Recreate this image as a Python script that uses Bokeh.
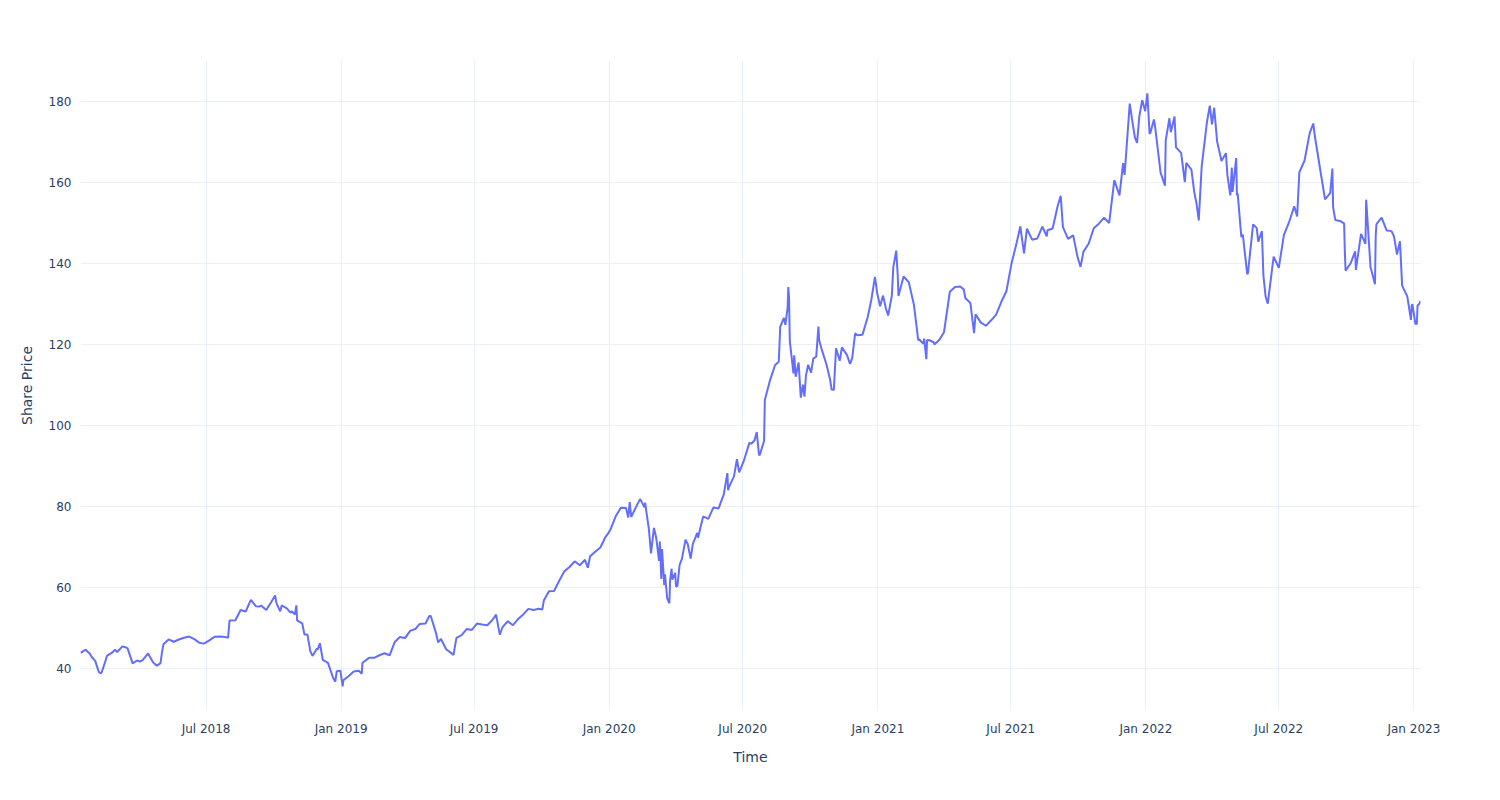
import pandas as pd
from bokeh.plotting import figure
from bokeh.models import ColumnDataSource, DatetimeTickFormatter, MonthsTicker, FixedTicker, Range1d
from bokeh.embed import file_html
from bokeh.resources import INLINE

dates = [
    "2018-01-11", "2018-01-18", "2018-01-24", "2018-01-26", "2018-01-31", "2018-02-05", "2018-02-08", "2018-02-09",
    "2018-02-14", "2018-02-16", "2018-02-23", "2018-02-27", "2018-03-02", "2018-03-09", "2018-03-13", "2018-03-16",
    "2018-03-23", "2018-03-29", "2018-04-02", "2018-04-06", "2018-04-13", "2018-04-20", "2018-04-25", "2018-04-30",
    "2018-05-02", "2018-05-04", "2018-05-11", "2018-05-18", "2018-05-25", "2018-06-01", "2018-06-08", "2018-06-15",
    "2018-06-22", "2018-06-28", "2018-07-06", "2018-07-13", "2018-07-20", "2018-07-27", "2018-07-31", "2018-08-02",
    "2018-08-10", "2018-08-17", "2018-08-24", "2018-08-31", "2018-09-07", "2018-09-12", "2018-09-14", "2018-09-21",
    "2018-09-28", "2018-10-03", "2018-10-05", "2018-10-10", "2018-10-12", "2018-10-19", "2018-10-24", "2018-10-26",
    "2018-10-30", "2018-11-01", "2018-11-02", "2018-11-09", "2018-11-12", "2018-11-16", "2018-11-20", "2018-11-23",
    "2018-11-29", "2018-11-30", "2018-12-03", "2018-12-07", "2018-12-14", "2018-12-21", "2018-12-24", "2018-12-26",
    "2018-12-31", "2019-01-03", "2019-01-04", "2019-01-11", "2019-01-18", "2019-01-25", "2019-01-29", "2019-01-30",
    "2019-02-01", "2019-02-08", "2019-02-15", "2019-02-22", "2019-03-01", "2019-03-08", "2019-03-15", "2019-03-22",
    "2019-03-29", "2019-04-05", "2019-04-12", "2019-04-18", "2019-04-26", "2019-05-01", "2019-05-03", "2019-05-10",
    "2019-05-13", "2019-05-17", "2019-05-24", "2019-05-31", "2019-06-03", "2019-06-07", "2019-06-14", "2019-06-21",
    "2019-06-28", "2019-07-05", "2019-07-12", "2019-07-19", "2019-07-26", "2019-07-31", "2019-08-05", "2019-08-09",
    "2019-08-16", "2019-08-23", "2019-08-30", "2019-09-06", "2019-09-13", "2019-09-20", "2019-09-27", "2019-10-02",
    "2019-10-04", "2019-10-11", "2019-10-18", "2019-10-25", "2019-11-01", "2019-11-08", "2019-11-15", "2019-11-22",
    "2019-11-29", "2019-12-03", "2019-12-06", "2019-12-13", "2019-12-20", "2019-12-27", "2019-12-31", "2020-01-03",
    "2020-01-10", "2020-01-17", "2020-01-24", "2020-01-27", "2020-01-29", "2020-01-31", "2020-02-07", "2020-02-12",
    "2020-02-14", "2020-02-18", "2020-02-19", "2020-02-21", "2020-02-24", "2020-02-27", "2020-03-02", "2020-03-05",
    "2020-03-09", "2020-03-10", "2020-03-12", "2020-03-13", "2020-03-16", "2020-03-17", "2020-03-20", "2020-03-23",
    "2020-03-24", "2020-03-26", "2020-03-27", "2020-03-31", "2020-04-01", "2020-04-03", "2020-04-06", "2020-04-09",
    "2020-04-14", "2020-04-17", "2020-04-21", "2020-04-24", "2020-04-30", "2020-05-01", "2020-05-08", "2020-05-15",
    "2020-05-22", "2020-05-29", "2020-06-05", "2020-06-10", "2020-06-11", "2020-06-12", "2020-06-19", "2020-06-23",
    "2020-06-26", "2020-07-02", "2020-07-10", "2020-07-13", "2020-07-17", "2020-07-20", "2020-07-23", "2020-07-24",
    "2020-07-30", "2020-07-31", "2020-08-07", "2020-08-10", "2020-08-14", "2020-08-19", "2020-08-21", "2020-08-26",
    "2020-08-28", "2020-08-31", "2020-09-01", "2020-09-02", "2020-09-03", "2020-09-08", "2020-09-09", "2020-09-11",
    "2020-09-15", "2020-09-18", "2020-09-21", "2020-09-23", "2020-09-25", "2020-09-28", "2020-10-02", "2020-10-05",
    "2020-10-09", "2020-10-12", "2020-10-13", "2020-10-16", "2020-10-23", "2020-10-28", "2020-10-30", "2020-11-02",
    "2020-11-05", "2020-11-10", "2020-11-13", "2020-11-20", "2020-11-24", "2020-11-27", "2020-12-01", "2020-12-04",
    "2020-12-11", "2020-12-18", "2020-12-23", "2020-12-28", "2020-12-31", "2021-01-04", "2021-01-08", "2021-01-12",
    "2021-01-15", "2021-01-20", "2021-01-22", "2021-01-26", "2021-01-28", "2021-01-29", "2021-02-05", "2021-02-12",
    "2021-02-19", "2021-02-25", "2021-02-26", "2021-03-04", "2021-03-05", "2021-03-08", "2021-03-09", "2021-03-12",
    "2021-03-18", "2021-03-19", "2021-03-26", "2021-04-01", "2021-04-09", "2021-04-16", "2021-04-23", "2021-04-28",
    "2021-04-30", "2021-05-07", "2021-05-12", "2021-05-14", "2021-05-21", "2021-05-28", "2021-06-04", "2021-06-11",
    "2021-06-18", "2021-06-25", "2021-07-02", "2021-07-09", "2021-07-14", "2021-07-16", "2021-07-19", "2021-07-23",
    "2021-07-30", "2021-08-06", "2021-08-13", "2021-08-19", "2021-08-20", "2021-08-27", "2021-09-03", "2021-09-07",
    "2021-09-10", "2021-09-17", "2021-09-24", "2021-09-30", "2021-10-04", "2021-10-08", "2021-10-15", "2021-10-22",
    "2021-10-29", "2021-11-05", "2021-11-12", "2021-11-19", "2021-11-26", "2021-12-01", "2021-12-03", "2021-12-10",
    "2021-12-13", "2021-12-16", "2021-12-17", "2021-12-20", "2021-12-23", "2021-12-27", "2021-12-31", "2022-01-03",
    "2022-01-06", "2022-01-07", "2022-01-12", "2022-01-14", "2022-01-21", "2022-01-27", "2022-01-28", "2022-02-02",
    "2022-02-04", "2022-02-09", "2022-02-11", "2022-02-18", "2022-02-23", "2022-02-25", "2022-03-04", "2022-03-08",
    "2022-03-11", "2022-03-14", "2022-03-18", "2022-03-25", "2022-03-29", "2022-04-01", "2022-04-04", "2022-04-08",
    "2022-04-14", "2022-04-20", "2022-04-22", "2022-04-26", "2022-04-28", "2022-04-29", "2022-05-04", "2022-05-05",
    "2022-05-06", "2022-05-11", "2022-05-13", "2022-05-19", "2022-05-20", "2022-05-27", "2022-06-01", "2022-06-03",
    "2022-06-08", "2022-06-10", "2022-06-13", "2022-06-16", "2022-06-17", "2022-06-24", "2022-07-01", "2022-07-08",
    "2022-07-15", "2022-07-22", "2022-07-26", "2022-07-29", "2022-08-05", "2022-08-12", "2022-08-17", "2022-08-19",
    "2022-08-26", "2022-09-02", "2022-09-09", "2022-09-12", "2022-09-13", "2022-09-16", "2022-09-23", "2022-09-28",
    "2022-09-29", "2022-09-30", "2022-10-07", "2022-10-13", "2022-10-14", "2022-10-21", "2022-10-27", "2022-10-28",
    "2022-11-03", "2022-11-04", "2022-11-09", "2022-11-10", "2022-11-11", "2022-11-18", "2022-11-25", "2022-11-30",
    "2022-12-02", "2022-12-05", "2022-12-09", "2022-12-13", "2022-12-16", "2022-12-23", "2022-12-28", "2022-12-29",
    "2022-12-30", "2023-01-03", "2023-01-05", "2023-01-06", "2023-01-09", "2023-01-10",
]

prices = [
    43.82, 44.62, 43.55, 42.88, 41.86, 39.10, 38.79, 39.10,
    41.84, 43.11, 43.87, 44.61, 44.05, 45.43, 45.21, 44.99,
    41.24, 41.95, 41.67, 42.10, 43.68, 41.43, 40.68, 41.31,
    44.00, 45.96, 47.15, 46.58, 47.14, 47.56, 47.85, 47.21,
    46.31, 46.11, 46.99, 47.84, 47.86, 47.74, 47.57, 51.85,
    51.88, 54.40, 54.04, 56.91, 55.33, 55.27, 55.53, 54.42,
    56.44, 58.02, 56.07, 54.09, 55.53, 54.83, 53.77, 54.08,
    53.32, 55.56, 51.87, 51.12, 48.38, 48.38, 44.24, 43.07,
    44.89, 44.65, 46.21, 42.12, 41.37, 37.68, 36.71, 39.29,
    39.44, 35.55, 37.06, 38.07, 39.21, 39.44, 38.67, 41.31,
    41.63, 42.60, 42.61, 43.24, 43.74, 43.23, 46.53, 47.76,
    47.49, 49.25, 49.72, 50.97, 51.08, 52.94, 52.94, 48.84,
    46.43, 47.25, 44.74, 43.77, 43.33, 47.54, 48.19, 49.70,
    49.48, 51.06, 50.83, 50.65, 51.94, 53.26, 48.33, 50.25,
    51.63, 50.66, 52.19, 53.32, 54.69, 54.43, 54.71, 54.56,
    56.75, 59.05, 59.10, 61.65, 63.96, 65.04, 66.44, 65.45,
    66.81, 64.86, 67.68, 68.79, 69.86, 72.45, 73.41, 74.36,
    77.58, 79.68, 79.58, 77.24, 81.08, 77.38, 80.01, 81.80,
    81.24, 79.75, 80.90, 78.26, 74.54, 68.38, 74.70, 72.33,
    66.54, 71.33, 62.06, 69.49, 60.55, 63.22, 57.31, 56.09,
    61.72, 64.61, 61.94, 63.57, 60.23, 60.35, 65.62, 66.99,
    71.76, 70.70, 67.09, 70.74, 73.45, 72.27, 77.53, 76.93,
    79.72, 79.49, 82.88, 88.21, 83.97, 84.70, 87.43, 91.63,
    88.41, 91.03, 95.68, 95.48, 96.33, 98.36, 92.85, 92.62,
    96.19, 106.26, 111.11, 112.73, 114.91, 115.71, 124.37, 126.52,
    124.81, 129.04, 134.18, 131.40, 120.88, 112.82, 117.32, 112.00,
    115.54, 106.84, 110.08, 107.12, 112.28, 114.96, 113.02, 116.50,
    116.97, 124.40, 121.10, 119.02, 115.04, 111.20, 108.86, 108.77,
    119.03, 115.97, 119.26, 117.34, 115.17, 116.59, 122.72, 122.25,
    122.41, 126.66, 130.96, 136.69, 132.69, 129.41, 132.05, 128.80,
    127.14, 132.03, 139.07, 143.16, 137.09, 131.96, 136.76, 135.37,
    129.87, 120.99, 121.26, 120.13, 121.42, 116.36, 121.09, 121.03,
    120.53, 119.99, 121.21, 123.00, 133.00, 134.16, 134.32, 133.58,
    131.46, 130.21, 122.77, 127.45, 125.43, 124.61, 125.89, 127.35,
    130.46, 133.11, 139.96, 145.11, 149.15, 146.39, 142.45, 148.56,
    145.86, 146.14, 149.10, 146.70, 148.19, 148.60, 154.30, 156.69,
    148.97, 146.06, 146.92, 141.50, 139.14, 142.90, 144.84, 148.69,
    149.80, 151.28, 149.99, 160.55, 156.81, 164.77, 161.84, 179.45,
    175.74, 172.26, 171.14, 169.75, 176.28, 180.33, 177.57, 182.01,
    172.00, 172.17, 175.53, 173.07, 162.41, 159.22, 170.33, 175.84,
    172.39, 176.28, 168.64, 167.30, 160.07, 164.85, 163.17, 157.44,
    154.73, 150.62, 163.98, 174.72, 178.96, 174.31, 178.44, 170.09,
    165.29, 167.23, 161.79, 156.80, 163.64, 157.65, 166.02, 156.77,
    157.28, 146.50, 147.11, 137.35, 137.59, 149.64, 148.71, 145.38,
    147.96, 137.13, 131.88, 130.06, 131.56, 141.66, 138.93, 147.04,
    150.17, 154.09, 151.60, 162.51, 165.35, 172.10, 174.55, 171.52,
    163.62, 155.81, 157.37, 163.43, 153.84, 150.70, 150.43, 149.84,
    142.48, 138.20, 140.09, 142.99, 138.38, 147.27, 144.80, 155.74,
    138.88, 138.38, 134.87, 146.87, 149.70, 151.29, 148.11, 148.03,
    147.81, 146.63, 142.16, 145.47, 134.51, 131.86, 126.04, 129.61,
    129.93, 125.07, 125.02, 129.62, 130.15, 130.73,
]

y_ticks = [40, 60, 80, 100, 120, 140, 160, 180]

df = pd.DataFrame({"date": pd.to_datetime(dates), "price": prices})
src = ColumnDataSource(df)

p = figure(
    width=1500, height=800,
    x_axis_type="datetime",
    output_backend="svg",
    toolbar_location=None,
    x_range=Range1d(df["date"].min(), df["date"].max()),
    y_range=Range1d(29.6, 190.1),
    min_border_left=80, min_border_right=80, min_border_top=60, min_border_bottom=90,
    background_fill_color="white", border_fill_color="white",
)

p.line("date", "price", source=src, line_color="#636efa", line_width=2)

p.xaxis.ticker = MonthsTicker(months=[0, 6])
p.xaxis.formatter = DatetimeTickFormatter(months="%b %Y", years="%b %Y", days="%b %Y")
p.yaxis.ticker = FixedTicker(ticks=y_ticks)

p.outline_line_color = None
p.grid.grid_line_color = "#EBF0F8"
p.grid.grid_line_width = 1

for ax in (p.xaxis[0], p.yaxis[0]):
    ax.axis_line_color = None
    ax.major_tick_line_color = None
    ax.minor_tick_line_color = None
    ax.major_label_text_color = "#2a3f5f"
    ax.major_label_text_font = "DejaVu Sans"
    ax.major_label_text_font_size = "12px"
    ax.axis_label_text_color = "#2a3f5f"
    ax.axis_label_text_font = "DejaVu Sans"
    ax.axis_label_text_font_size = "14px"
    ax.axis_label_text_font_style = "normal"

p.xaxis.axis_label = "Time"
p.yaxis.axis_label = "Share Price"
p.xaxis.major_label_standoff = 5
p.xaxis.axis_label_standoff = 10
p.yaxis.major_label_standoff = 3
p.yaxis.axis_label_standoff = 11

open("out.html", "w").write(file_html(p, INLINE))
